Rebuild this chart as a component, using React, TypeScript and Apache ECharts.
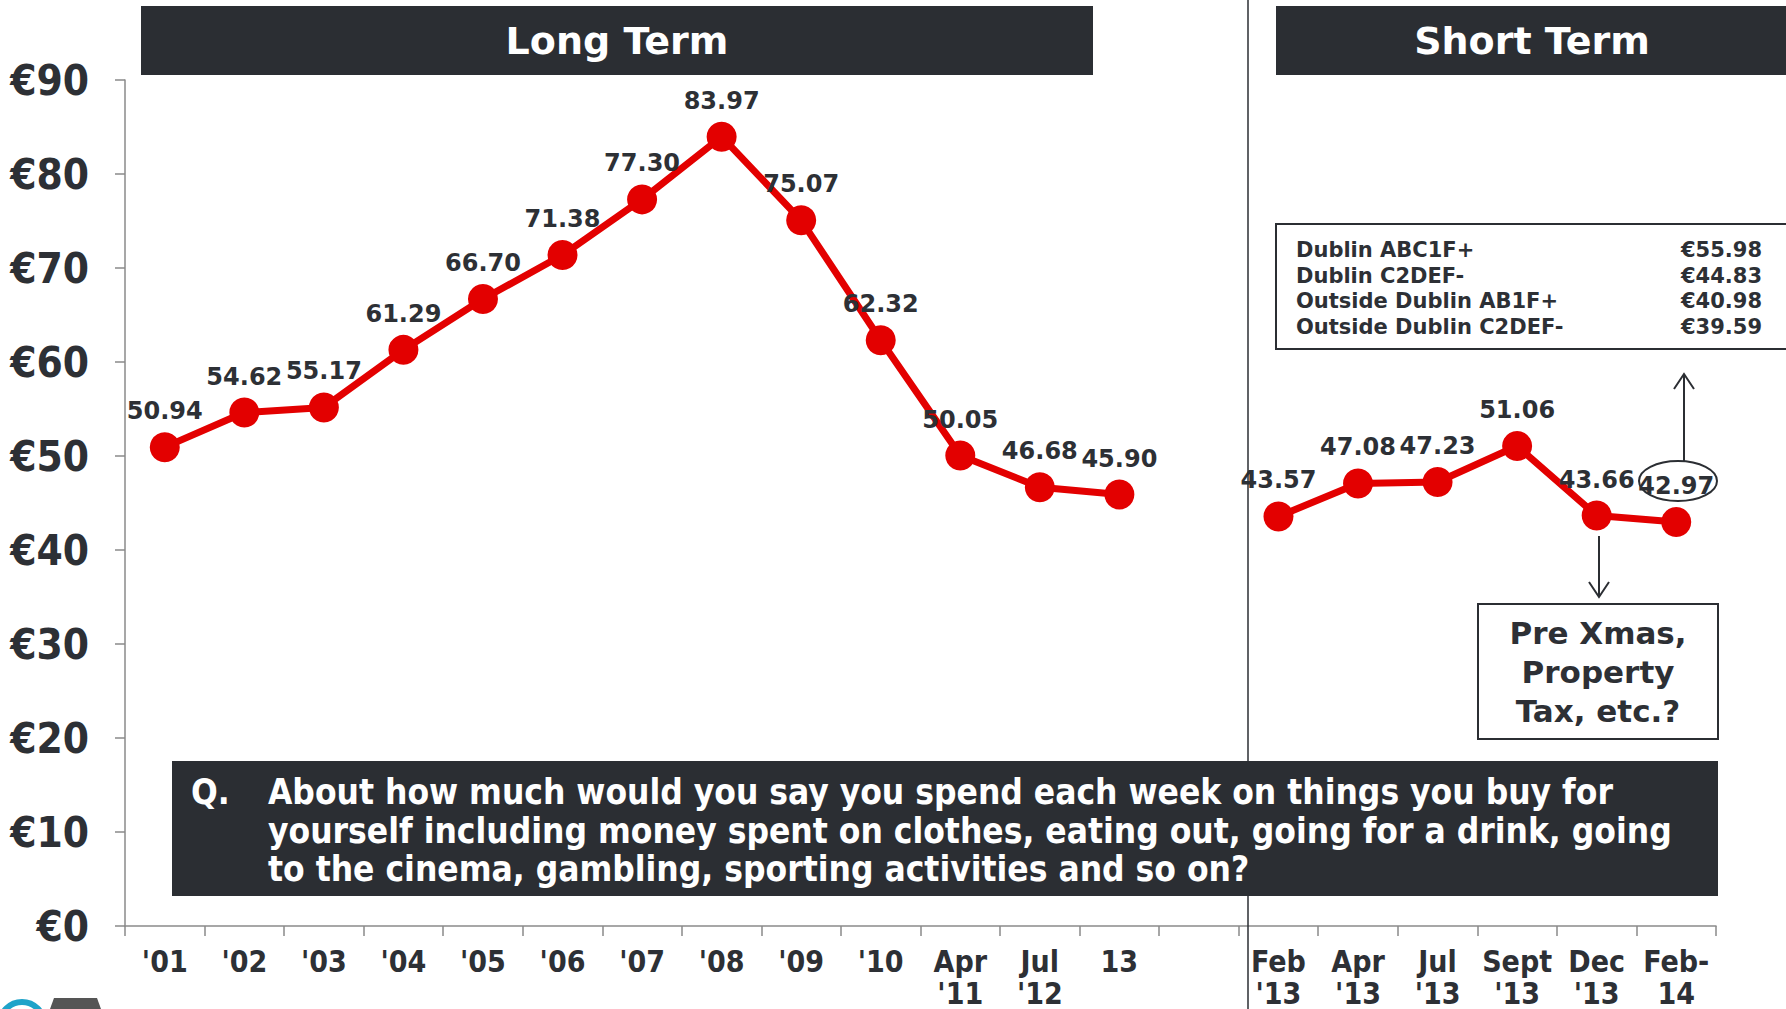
import React, { useEffect, useRef } from "react";
import * as echarts from "echarts";

const categories = [
  "'01", "'02", "'03", "'04", "'05", "'06", "'07", "'08", "'09", "'10",
  "Apr\n'11", "Jul\n'12", "13", "",
  "Feb\n'13", "Apr\n'13", "Jul\n'13", "Sept\n'13", "Dec\n'13", "Feb-\n14",
];
const longTerm = [50.94, 54.62, 55.17, 61.29, 66.7, 71.38, 77.3, 83.97, 75.07, 62.32, 50.05, 46.68, 45.9];
const shortTerm = [43.57, 47.08, 47.23, 51.06, 43.66, 42.97];
const segmentRows = ["Dublin ABC1F+", "Dublin C2DEF-", "Outside Dublin AB1F+", "Outside Dublin C2DEF-"];
const segmentValues = ["€55.98", "€44.83", "€40.98", "€39.59"];
const questionLines = [
  "About how much would you say you spend each week on things you buy for",
  "yourself including money spent on clothes, eating out, going for a drink, going",
  "to the cinema, gambling, sporting activities and so on?",
];
const noteLines = ["Pre Xmas,", "Property", "Tax, etc.?"];

const DARK = "#2b2e33";
const TEXT = "#2d3035";
const RED = "#e30000";
const COND = '"DejaVu Sans Condensed", "DejaVu Sans", sans-serif';
const SANS = '"DejaVu Sans", Verdana, sans-serif';

export default function App() {
  const ref = useRef<HTMLDivElement>(null);
  useEffect(() => {
    const chart = echarts.init(ref.current!, null, { renderer: "svg" });
    const nLong = longTerm.length;
    const longData = categories.map((_, i) => (i < nLong ? longTerm[i] : "-"));
    const shortStart = categories.length - shortTerm.length;
    const shortData = categories.map((_, i) => (i >= shortStart ? shortTerm[i - shortStart] : "-"));

    const labelCfg = {
      show: true,
      position: "top",
      distance: 9,
      fontSize: 24,
      fontWeight: "bold",
      fontFamily: SANS,
      color: TEXT,
      formatter: (p: any) => Number(p.value).toFixed(2),
    };
    const seriesBase = {
      type: "line",
      symbol: "circle",
      symbolSize: 30,
      lineStyle: { color: RED, width: 7 },
      itemStyle: { color: RED },
      label: labelCfg,
      connectNulls: false,
      z: 3,
    };

    const graphic: any[] = [
      // headers
      { type: "rect", shape: { x: 141, y: 6, width: 952, height: 69 }, style: { fill: DARK } },
      {
        type: "text", x: 617, y: 41,
        style: { text: "Long Term", fill: "#fff", font: `bold 38px ${SANS}`, align: "center", verticalAlign: "middle" },
      },
      { type: "rect", shape: { x: 1276, y: 6, width: 510, height: 69 }, style: { fill: DARK } },
      {
        type: "text", x: 1532, y: 41,
        style: { text: "Short Term", fill: "#fff", font: `bold 38px ${SANS}`, align: "center", verticalAlign: "middle" },
      },
      // divider (behind the question box)
      { type: "line", shape: { x1: 1248, y1: 0, x2: 1248, y2: 1009 }, style: { stroke: DARK, lineWidth: 1.5 }, z: 4 },
      // segment box
      {
        type: "rect", shape: { x: 1276, y: 224, width: 512, height: 125 },
        style: { fill: "#fff", stroke: DARK, lineWidth: 2 },
      },
      ...segmentRows.map((t, i) => ({
        type: "text", x: 1296, y: 250 + i * 25.7,
        style: { text: t, fill: TEXT, font: `bold 21px ${SANS}`, align: "left", verticalAlign: "middle" },
      })),
      ...segmentValues.map((t, i) => ({
        type: "text", x: 1762, y: 250 + i * 25.7,
        style: { text: t, fill: TEXT, font: `bold 21px ${SANS}`, align: "right", verticalAlign: "middle" },
      })),
      // up arrow
      { type: "line", shape: { x1: 1684, y1: 461, x2: 1684, y2: 374 }, style: { stroke: DARK, lineWidth: 2 } },
      { type: "polyline", shape: { points: [[1674, 389], [1684, 374], [1694, 389]] }, style: { stroke: DARK, lineWidth: 2, fill: "none" } },
      // ellipse
      { type: "ellipse", shape: { cx: 1678, cy: 481, rx: 39, ry: 20 }, style: { fill: "none", stroke: DARK, lineWidth: 2 }, z: 10 },
      // down arrow
      { type: "line", shape: { x1: 1599, y1: 536, x2: 1599, y2: 597 }, style: { stroke: DARK, lineWidth: 2 } },
      { type: "polyline", shape: { points: [[1589, 582], [1599, 597], [1609, 582]] }, style: { stroke: DARK, lineWidth: 2, fill: "none" } },
      // note box
      {
        type: "rect", shape: { x: 1478, y: 604, width: 240, height: 135 },
        style: { fill: "#fff", stroke: DARK, lineWidth: 2 },
      },
      ...noteLines.map((t, i) => ({
        type: "text", x: 1598, y: 633 + i * 39,
        style: { text: t, fill: TEXT, font: `bold 31px ${SANS}`, align: "center", verticalAlign: "middle" },
      })),
      // question box
      { type: "rect", shape: { x: 172, y: 761, width: 1546, height: 135 }, style: { fill: DARK }, z: 5 },
      {
        type: "text", x: 191, y: 792, z: 6,
        style: { text: "Q.", fill: "#fff", font: `bold 35px ${COND}`, align: "left", verticalAlign: "middle" },
      },
      ...questionLines.map((t, i) => ({
        type: "text", x: 268, y: 792 + i * 38.5, z: 6,
        style: { text: t, fill: "#fff", font: `bold 35px ${COND}`, align: "left", verticalAlign: "middle" },
      })),
      // logo fragment
      { type: "arc", shape: { cx: 22, cy: 1024, r: 22, startAngle: Math.PI, endAngle: 2 * Math.PI }, style: { stroke: "#1fa3c9", lineWidth: 6, fill: "none" } },
      { type: "polygon", shape: { points: [[50, 1009], [54, 998], [97, 998], [101, 1009]] }, style: { fill: "#555" } },
    ];

    chart.setOption({
      animation: false,
      backgroundColor: "#fff",
      grid: { left: 125, right: 70, top: 80, bottom: 83, containLabel: false, outerBoundsMode: "none" },
      xAxis: {
        type: "category",
        data: categories,
        boundaryGap: true,
        axisLine: { lineStyle: { color: "#8a8a8a", width: 1.5 } },
        axisTick: { show: true, interval: 0, length: 10, lineStyle: { color: "#8a8a8a", width: 1.5 } },
        axisLabel: {
          interval: 0,
          margin: 19,
          fontSize: 30,
          fontWeight: "bold",
          fontFamily: COND,
          color: TEXT,
          lineHeight: 32,
        },
      },
      yAxis: {
        type: "value",
        min: 0,
        max: 90,
        interval: 10,
        splitLine: { show: false },
        axisLine: { show: true, lineStyle: { color: "#8a8a8a", width: 1.5 } },
        axisTick: { show: true, length: 10, lineStyle: { color: "#8a8a8a", width: 1.5 } },
        axisLabel: {
          margin: 36,
          fontSize: 42,
          fontWeight: "bold",
          fontFamily: COND,
          color: TEXT,
          formatter: "€{value}",
        },
      },
      series: [
        { ...seriesBase, name: "Long Term", data: longData },
        { ...seriesBase, name: "Short Term", data: shortData },
      ],
      graphic,
    });
    return () => chart.dispose();
  }, []);
  return (
    <div
      ref={ref}
      style={{ position: "fixed", left: 0, top: 0, width: 1786, height: 1009, background: "#fff" }}
    />
  );
}
